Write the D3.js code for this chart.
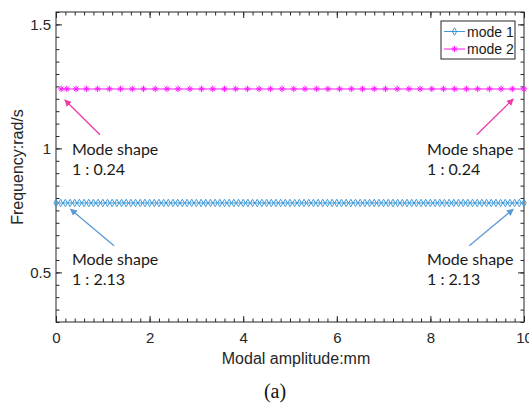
<!DOCTYPE html>
<html>
<head>
<meta charset="utf-8">
<script src="https://cdn.jsdelivr.net/npm/d3@7/dist/d3.min.js"></script>
<style>
  html, body { margin: 0; padding: 0; background: #fff; }
  svg { display: block; }
</style>
</head>
<body>
<svg id="chart" width="529" height="405"></svg>
<script>
// Axis ticks
const xTicks = [0, 2, 4, 6, 8, 10];
const yTicks = [0.5, 1, 1.5];

// Mode 1: modal amplitude samples (mm) and natural frequency (rad/s)
const mode1Amp = [0, 0.1, 0.2, 0.3, 0.4, 0.5, 0.6, 0.7, 0.8, 0.9,
  1, 1.1, 1.2, 1.3, 1.4, 1.5, 1.6, 1.7, 1.8, 1.9,
  2, 2.1, 2.2, 2.3, 2.4, 2.5, 2.6, 2.7, 2.8, 2.9,
  3, 3.1, 3.2, 3.3, 3.4, 3.5, 3.6, 3.7, 3.8, 3.9,
  4, 4.1, 4.2, 4.3, 4.4, 4.5, 4.6, 4.7, 4.8, 4.9,
  5, 5.1, 5.2, 5.3, 5.4, 5.5, 5.6, 5.7, 5.8, 5.9,
  6, 6.1, 6.2, 6.3, 6.4, 6.5, 6.6, 6.7, 6.8, 6.9,
  7, 7.1, 7.2, 7.3, 7.4, 7.5, 7.6, 7.7, 7.8, 7.9,
  8, 8.1, 8.2, 8.3, 8.4, 8.5, 8.6, 8.7, 8.8, 8.9,
  9, 9.1, 9.2, 9.3, 9.4, 9.5, 9.6, 9.7, 9.8, 9.9, 10];
const mode1Freq = 0.78;

// Mode 2: modal amplitude samples (mm) and natural frequency (rad/s)
const mode2Amp = [0.11, 0.23, 0.43, 0.65, 0.89, 1.14, 1.38, 1.63, 1.87, 2.12,
  2.37, 2.61, 2.86, 3.11, 3.35, 3.60, 3.84, 4.09, 4.34, 4.58,
  4.83, 5.08, 5.32, 5.57, 5.81, 6.06, 6.31, 6.55, 6.80, 7.04,
  7.29, 7.54, 7.78, 8.03, 8.28, 8.52, 8.77, 9.01, 9.26, 9.51,
  9.75, 10.00];
const mode2Freq = 1.24;

// Legend entries
const seriesNames = ["mode 1", "mode 2"];

// Mode-shape ratio notes (data units): text anchor, arrow tail and arrow tip
const notes = [
  { series: 1, ratio: "1 : 0.24", tx: 0.34, ty: 0.975, from: [0.94, 1.055], to: [0.19, 1.195] },
  { series: 1, ratio: "1 : 0.24", tx: 7.93, ty: 0.975, from: [8.99, 1.055], to: [9.77, 1.199] },
  { series: 0, ratio: "1 : 2.13", tx: 0.34, ty: 0.528, from: [1.24, 0.607], to: [0.31, 0.755] },
  { series: 0, ratio: "1 : 2.13", tx: 7.93, ty: 0.528, from: [8.83, 0.607], to: [9.77, 0.755] }
];

const colors = ["#3d9ad9", "#ff1aff"];
const arrowColors = ["#5b9bd5", "#ec3aa6"];

const svg = d3.select("#chart");
const pLeft = 56, pRight = 524, pTop = 12, pBottom = 322;

const x = d3.scaleLinear().domain([0, 10]).range([pLeft, pRight]);
const y = d3.scaleLinear().domain([0.3, 1.55]).range([pBottom, pTop]);

const axisColor = "#262626";
const tickFont = "'Liberation Sans', Arial, sans-serif";

// Arrowhead definitions
const defs = svg.append("defs");
arrowColors.forEach((c, i) => {
  defs.append("marker")
    .attr("id", "head" + i)
    .attr("viewBox", "0 0 10 10")
    .attr("refX", 9).attr("refY", 5)
    .attr("markerWidth", 7).attr("markerHeight", 7)
    .attr("markerUnits", "userSpaceOnUse")
    .attr("orient", "auto")
    .append("path")
    .attr("d", "M0,0 L10,5 L0,10 z")
    .attr("fill", c);
});

// Axes with inward ticks on all four sides
const xMinor = d3.range(0, 10.0001, 0.2);
const yMinor = d3.range(0.3, 1.5501, 0.05);

function addAxis(axisGen, transform, showLabels) {
  const g = svg.append("g").attr("transform", transform).call(axisGen);
  g.select(".domain").remove();
  g.selectAll("line").attr("stroke", axisColor).attr("stroke-width", 1);
  g.selectAll("text")
    .attr("fill", "#262626")
    .style("font-family", tickFont)
    .style("font-size", "15px");
  if (!showLabels) g.selectAll("text").remove();
  return g;
}

// minor ticks
addAxis(d3.axisBottom(x).tickValues(xMinor).tickSize(-3.5).tickFormat(""), `translate(0,${pBottom})`, false);
addAxis(d3.axisTop(x).tickValues(xMinor).tickSize(-3.5).tickFormat(""), `translate(0,${pTop})`, false);
addAxis(d3.axisLeft(y).tickValues(yMinor).tickSize(-3.5).tickFormat(""), `translate(${pLeft},0)`, false);
addAxis(d3.axisRight(y).tickValues(yMinor).tickSize(-3.5).tickFormat(""), `translate(${pRight},0)`, false);

// major ticks
addAxis(d3.axisBottom(x).tickValues(xTicks).tickSize(-6).tickPadding(10).tickFormat(d3.format("d")), `translate(0,${pBottom})`, true);
addAxis(d3.axisTop(x).tickValues(xTicks).tickSize(-6).tickFormat(""), `translate(0,${pTop})`, false);
addAxis(d3.axisLeft(y).tickValues(yTicks).tickSize(-6).tickPadding(5).tickFormat(d => String(d)), `translate(${pLeft},0)`, true);
addAxis(d3.axisRight(y).tickValues(yTicks).tickSize(-6).tickFormat(""), `translate(${pRight},0)`, false);

// Plot box
svg.append("rect")
  .attr("x", pLeft).attr("y", pTop)
  .attr("width", pRight - pLeft).attr("height", pBottom - pTop)
  .attr("fill", "none").attr("stroke", axisColor).attr("stroke-width", 1);

// Series
const series = [
  { amp: mode1Amp, freq: mode1Freq, symbol: d3.symbolDiamond, size: 16 },
  { amp: mode2Amp, freq: mode2Freq, symbol: "star", size: 3.2 }
];

function starPath(r) {
  // asterisk marker: four crossing strokes
  let d = "";
  for (let k = 0; k < 4; k++) {
    const a = k * Math.PI / 4;
    const dx = r * Math.cos(a), dy = r * Math.sin(a);
    d += `M${-dx},${-dy}L${dx},${dy}`;
  }
  return d;
}

const plot = svg.append("g");
series.forEach((s, i) => {
  const pts = s.amp.map(a => [a, s.freq]);
  const line = d3.line().x(d => x(d[0])).y(d => y(d[1]));
  plot.append("path")
    .attr("d", line(pts))
    .attr("fill", "none")
    .attr("stroke", i === 1 ? "#ff8cff" : colors[0])
    .attr("stroke-width", i === 1 ? 2 : 1);
  plot.selectAll(null).data(pts).enter().append("path")
    .attr("transform", d => `translate(${x(d[0])},${y(d[1])})`)
    .attr("d", s.symbol === "star" ? starPath(s.size) : d3.symbol().type(s.symbol).size(s.size)())
    .attr("fill", "none")
    .attr("stroke", colors[i])
    .attr("stroke-width", 1);
});

// Annotations
const noteFont = "Lato, 'Open Sans', sans-serif";
notes.forEach(n => {
  svg.append("line")
    .attr("x1", x(n.from[0])).attr("y1", y(n.from[1]))
    .attr("x2", x(n.to[0])).attr("y2", y(n.to[1]))
    .attr("stroke", arrowColors[n.series])
    .attr("stroke-width", 1.3)
    .attr("marker-end", `url(#head${n.series})`);
  const t = svg.append("text")
    .attr("x", x(n.tx)).attr("y", y(n.ty))
    .style("font-family", noteFont)
    .style("font-size", "16px")
    .attr("fill", "#1a1a1a");
  t.append("tspan").attr("x", x(n.tx)).text("Mode shape");
  t.append("tspan").attr("x", x(n.tx)).attr("dy", 20).text(n.ratio);
});

// Legend
const lg = svg.append("g").attr("transform", "translate(441,21)");
lg.append("rect").attr("width", 74).attr("height", 38)
  .attr("fill", "#fff").attr("stroke", axisColor).attr("stroke-width", 1);
seriesNames.forEach((name, i) => {
  const yy = 10.5 + i * 17.5;
  lg.append("line").attr("x1", 3).attr("x2", 24).attr("y1", yy).attr("y2", yy)
    .attr("stroke", i === 1 ? "#ff8cff" : colors[0]).attr("stroke-width", i === 1 ? 2 : 1);
  lg.append("path")
    .attr("transform", `translate(13.5,${yy})`)
    .attr("d", i === 1 ? starPath(3.2) : d3.symbol().type(d3.symbolDiamond).size(16)())
    .attr("fill", "none").attr("stroke", colors[i]).attr("stroke-width", 1);
  lg.append("text").attr("x", 26).attr("y", yy + 5)
    .style("font-family", tickFont).style("font-size", "14px")
    .attr("fill", "#1a1a1a").text(name);
});

// Axis titles
svg.append("text")
  .attr("x", (pLeft + pRight) / 2 + 6).attr("y", 364)
  .attr("text-anchor", "middle")
  .style("font-family", tickFont).style("font-size", "16px")
  .attr("fill", "#262626")
  .text("Modal amplitude:mm");

svg.append("text")
  .attr("transform", `translate(23,${(pTop + pBottom) / 2}) rotate(-90)`)
  .attr("text-anchor", "middle")
  .style("font-family", tickFont).style("font-size", "16px")
  .attr("fill", "#262626")
  .text("Frequency:rad/s");

// Panel caption
svg.append("text")
  .attr("x", 275).attr("y", 398)
  .attr("text-anchor", "middle")
  .style("font-family", "'Liberation Serif', 'Times New Roman', serif")
  .style("font-size", "20px")
  .attr("fill", "#111")
  .text("(a)");
</script>
</body>
</html>
